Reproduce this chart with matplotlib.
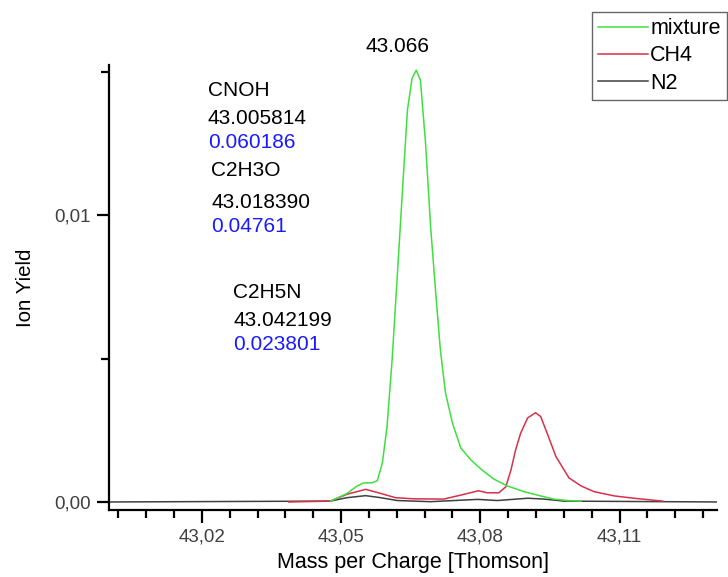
import numpy as np
from matplotlib import pyplot as plt
from matplotlib.ticker import MultipleLocator, FuncFormatter

plt.rcParams['font.family'] = ['Liberation Sans', 'DejaVu Sans']

# mixture
mix_x = [43.0477, 43.0491, 43.0513, 43.0535, 43.0548, 43.0567, 43.0578, 43.0589,
         43.0599, 43.0610, 43.0621, 43.0632, 43.0643, 43.0653, 43.0662, 43.0671,
         43.0682, 43.0693, 43.0704, 43.0714, 43.0725, 43.0740, 43.0758, 43.0780,
         43.0804, 43.0829, 43.0858, 43.0894, 43.0930, 43.0958, 43.0988, 43.1017]
mix_y = [0.00003, 0.00013, 0.00030, 0.00056, 0.00066, 0.00067, 0.00074, 0.00136,
         0.00262, 0.00495, 0.00785, 0.01077, 0.01366, 0.01477, 0.01505, 0.01470,
         0.01251, 0.00958, 0.00728, 0.00530, 0.00380, 0.00275, 0.00188, 0.00146,
         0.00111, 0.00080, 0.00056, 0.00036, 0.00021, 0.00010, 0.00005, 0.00003]

# CH4
ch4_x = [43.0387, 43.0477, 43.0513, 43.0553, 43.0585, 43.0617, 43.0656, 43.0721,
         43.0758, 43.0796, 43.0815, 43.0840, 43.0855, 43.0866, 43.0876, 43.0887,
         43.0902, 43.0919, 43.0930, 43.0944, 43.0963, 43.0991, 43.1017, 43.1045,
         43.1089, 43.1131, 43.1168, 43.1193]
ch4_y = [0.0, 0.00003, 0.00027, 0.00044, 0.00030, 0.00015, 0.00011, 0.00010,
         0.00024, 0.00039, 0.00032, 0.00032, 0.00053, 0.00111, 0.00181, 0.00240,
         0.00293, 0.00311, 0.00298, 0.00240, 0.00158, 0.00084, 0.00056, 0.00036,
         0.00021, 0.00013, 0.00007, 0.00003]

# N2
n2_x = [43.0, 43.0477, 43.0513, 43.0553, 43.0585, 43.0621, 43.0693, 43.0794,
        43.0837, 43.0902, 43.0937, 43.0980, 43.131]
n2_y = [0.0, 0.00003, 0.00015, 0.00022, 0.00015, 0.00005, 0.00001, 0.00009,
        0.00005, 0.00013, 0.00010, 0.00003, 0.0]

# Textblocks: (name, mass, value)
labels = [('CNOH', '43.005814', '0.060186'),
          ('C2H3O', '43.018390', '0.04761'),
          ('C2H5N', '43.042199', '0.023801')]
peak_label = '43.066'

fig = plt.figure(figsize=(7.28, 5.77), dpi=100)
ax = fig.add_axes([109/728, 1-510/577, (717-109)/728, (510-65)/577])

ax.plot(n2_x, n2_y, color='#404040', lw=1.1, label='N2', zorder=2)
ax.plot(ch4_x, ch4_y, color='#d8304a', lw=1.1, label='CH4', zorder=3)
ax.plot(mix_x, mix_y, color='#3ee03e', lw=1.1, label='mixture', zorder=4)

ax.set_xlim(43.0, 43.131)
ax.set_ylim(-0.00028, 0.01523)

for s in ['top', 'right']:
    ax.spines[s].set_visible(False)
for s in ['left', 'bottom']:
    ax.spines[s].set_linewidth(1.6)

ax.xaxis.set_major_locator(MultipleLocator(0.03))
ax.xaxis.set_minor_locator(MultipleLocator(0.006))
ax.yaxis.set_major_locator(MultipleLocator(0.01))
ax.yaxis.set_minor_locator(MultipleLocator(0.005))
ax.xaxis.set_major_formatter(FuncFormatter(lambda v, p: ('%.2f' % v).replace('.', ',')))
ax.yaxis.set_major_formatter(FuncFormatter(lambda v, p: ('%.2f' % v).replace('.', ',')))
ax.tick_params(which='major', direction='out', length=9, width=1.6,
               labelsize=13.5, labelcolor='#404040')
ax.tick_params(axis='x', which='major', pad=4)
ax.tick_params(axis='y', which='major', pad=4)
ax.tick_params(which='minor', direction='out', length=6, width=1.6)

ax.set_xlabel('Mass per Charge [Thomson]', fontsize=15.5, labelpad=5)
ax.set_ylabel('Ion Yield', fontsize=14.8, labelpad=14)

# annotations in axes-pixel placement
def px(x, y):
    return (x - 109) / (717 - 109), (510 - y) / (510 - 65)

pos = [(208, 90, 118, 143), (211, 170, 202, 226), (233, 293, 320, 345)]
for (name, mass, val), (x0, y1, y2, y3) in zip(labels, pos):
    ax.text(*px(x0, y1), name, transform=ax.transAxes, fontsize=15, va='center')
    ax.text(*px(x0, y2), mass, transform=ax.transAxes, fontsize=15, va='center')
    ax.text(*px(x0, y3), val, transform=ax.transAxes, fontsize=15, va='center',
            color='#1a1aff')
ax.text(*px(397, 47), peak_label, transform=ax.transAxes, fontsize=15,
        va='center', ha='center')

h, l = ax.get_legend_handles_labels()
leg = ax.legend(h[::-1], l[::-1], loc='upper left',
                bbox_to_anchor=(592/728, 1-12/577), bbox_transform=fig.transFigure,
                fontsize=15.5, frameon=True, fancybox=False, handlelength=2.3,
                handletextpad=0.1, labelspacing=0.28, borderpad=0.3,
                borderaxespad=0)
leg.get_frame().set_edgecolor('#404040')
leg.get_frame().set_linewidth(1.0)

fig.savefig('out.png', dpi=100)
